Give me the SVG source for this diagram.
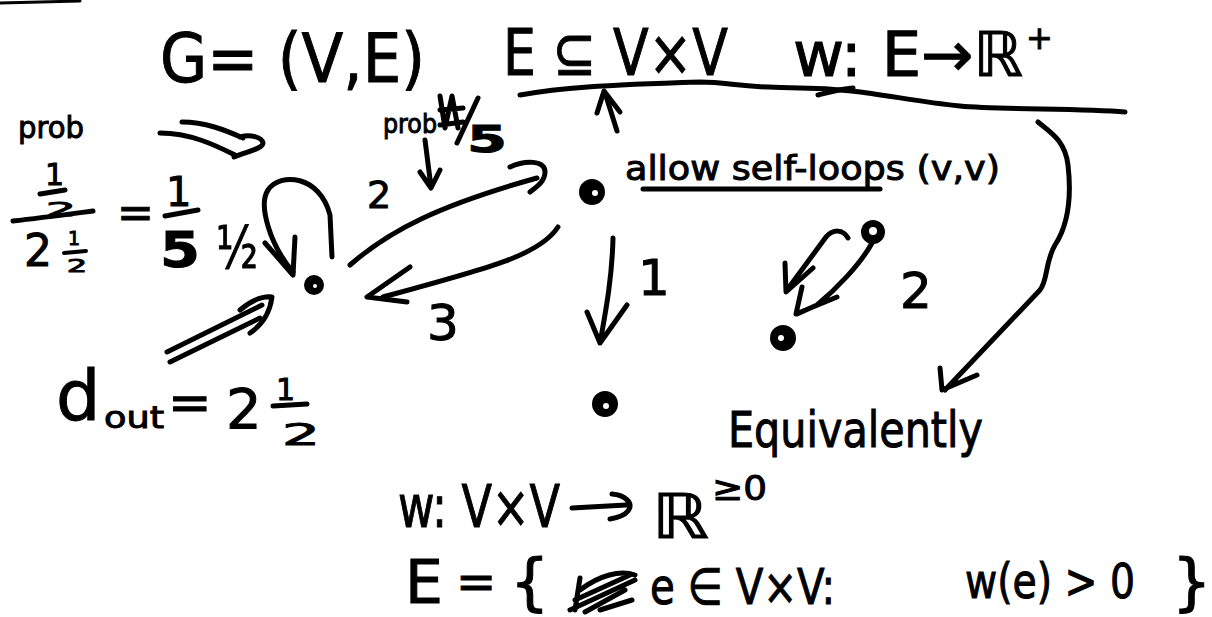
<svg xmlns="http://www.w3.org/2000/svg" width="1212" height="617" viewBox="0 0 1212 617">
<style>
.ink{fill:none;stroke:#000;stroke-width:5;stroke-linecap:round;stroke-linejoin:round}
.t{font-family:"DejaVu Sans","Liberation Sans",sans-serif;fill:#000;stroke:#000;stroke-width:1}
.node{fill:#000;stroke:#000;stroke-width:4}
.hole{fill:#fff}
</style>
<rect width="1212" height="617" fill="#fff"/>
<g id="headers">
<path class="ink" style="stroke-width:3" d="M0,3 L80,1"/>
<text class="t" x="160" y="82" font-size="68" textLength="265" lengthAdjust="spacingAndGlyphs">G= (V,E)</text>
<text class="t" x="503" y="75" font-size="64" textLength="225" lengthAdjust="spacingAndGlyphs">E ⊆ V×V</text>
<text class="t" x="793" y="76" font-size="62" textLength="230" lengthAdjust="spacingAndGlyphs">w: E→ℝ</text>
<text class="t" x="1026" y="49" font-size="32">+</text>
<path class="ink" d="M520,95 C560,88 600,85 700,82 C730,82 740,88 800,88 C860,88 900,100 960,106 C1000,110 1080,108 1125,112"/>
<path class="ink" d="M818,95 C830,92 840,89 853,88"/>
<path class="ink" d="M597,113 L604,91 L620,112 M606,96 L617,131"/>
<text class="t" x="625" y="180" font-size="34" textLength="375" lengthAdjust="spacingAndGlyphs">allow self-loops (v,v)</text>
<path class="ink" d="M643,189 L880,189"/>
<text class="t" x="728" y="447" font-size="50" textLength="255" lengthAdjust="spacingAndGlyphs">Equivalently</text>
</g>
<g id="left-notes">
<text class="t" x="18" y="138" font-size="30" textLength="66" lengthAdjust="spacingAndGlyphs">prob</text>
<text class="t" x="45" y="185" font-size="30">1</text>
<path class="ink" d="M40,194 L65,190"/>
<text class="t" x="46" y="216" font-size="20" textLength="30" lengthAdjust="spacingAndGlyphs">2</text>
<path class="ink" d="M13,221 C40,218 70,214 93,211"/>
<text class="t" x="24" y="266" font-size="44">2</text>
<text class="t" x="68" y="245" font-size="19">1</text>
<path class="ink" style="stroke-width:4" d="M64,253 L86,251"/>
<text class="t" x="67" y="272" font-size="18" textLength="20" lengthAdjust="spacingAndGlyphs">2</text>
<text class="t" x="117" y="228" font-size="44">=</text>
<text class="t" x="166" y="206" font-size="40">1</text>
<path class="ink" d="M165,216 L198,210"/>
<text class="t" x="160" y="267" font-size="50" font-weight="bold" textLength="40" lengthAdjust="spacingAndGlyphs">5</text>
<text class="t" x="216" y="268" font-size="58" textLength="42" lengthAdjust="spacingAndGlyphs">½</text>
<path class="ink" d="M182,122 C205,122 225,130 243,138 M160,133 C190,133 215,145 235,155 M240,137 C250,134 262,137 263,143 C263,149 245,152 234,157"/>
<text class="t" x="383" y="133" font-size="26" textLength="54" lengthAdjust="spacingAndGlyphs">prob</text>
<path class="ink" d="M440,96 L445,128 L452,96 L458,128 M440,110 L463,108 M440,125 L463,122 M457,143 L478,98"/>
<text class="t" x="467" y="152" font-size="38" font-weight="bold" textLength="40" lengthAdjust="spacingAndGlyphs">5</text>
<path class="ink" d="M425,140 L431,187 M420,172 L431,188 L440,170"/>
<path class="ink" d="M167,352 L262,305 M170,362 L260,318 M240,310 C252,300 262,296 272,297 C270,312 262,325 250,333"/>
<text class="t" x="56" y="420" font-size="70">d</text>
<text class="t" x="104" y="428" font-size="30" textLength="60" lengthAdjust="spacingAndGlyphs">out</text>
<text class="t" x="168" y="420" font-size="52">=</text>
<text class="t" x="226" y="428" font-size="56">2</text>
<text class="t" x="276" y="400" font-size="30">1</text>
<path class="ink" d="M273,406 L307,404"/>
<text class="t" x="282" y="445" font-size="30" textLength="38" lengthAdjust="spacingAndGlyphs">2</text>
</g>
<g id="connectors">
<path class="ink" d="M293,272 C270,245 258,205 268,190 C280,172 320,175 330,215 L332,257"/>
<path class="ink" d="M265,243 L293,275 L295,237"/>
<path class="ink" d="M350,265 C390,230 440,205 537,178"/>
<path class="ink" d="M510,167 C525,160 545,160 545,172 C545,182 535,188 530,192"/>
<path class="ink" d="M558,227 C540,255 490,268 383,297"/>
<path class="ink" d="M410,267 L367,297 L407,302"/>
<path class="ink" d="M613,238 C612,280 605,315 600,343 M587,312 L600,343 L627,305"/>
<path class="ink" d="M848,238 C843,229 833,229 826,237 L787,290 M785,263 L786,292 L813,268"/>
<path class="ink" d="M872,243 C860,265 835,290 817,305 L797,314 M802,287 L796,314 L837,297"/>
<path class="ink" d="M1038,122 C1050,132 1065,140 1068,165 C1072,200 1068,225 1055,245 C1045,262 1048,280 1040,290 L945,390 M940,368 L942,390 L977,375"/>
</g>
<g id="edge-labels">
<text class="t" x="367" y="208" font-size="38">2</text>
<text class="t" x="427" y="340" font-size="50">3</text>
<text class="t" x="638" y="295" font-size="50">1</text>
<text class="t" x="900" y="308" font-size="50">2</text>
</g>
<g id="n1"><circle class="node" cx="314" cy="285" r="8"/><circle class="hole" cx="315" cy="286" r="2"/></g>
<g id="n2"><circle class="node" cx="592" cy="192" r="11"/><circle class="hole" cx="595" cy="193" r="3"/></g>
<g id="n3"><circle class="node" cx="605" cy="404" r="11"/><circle class="hole" cx="606" cy="406" r="3"/></g>
<g id="n4"><circle class="node" cx="873" cy="232" r="10"/><circle class="hole" cx="873" cy="231" r="4"/></g>
<g id="n5"><circle class="node" cx="783" cy="338" r="11"/><circle class="hole" cx="781" cy="338" r="3"/></g>
<g id="bottom">
<text class="t" x="398" y="527" font-size="58" textLength="162" lengthAdjust="spacingAndGlyphs">w: V×V</text>
<path class="ink" d="M572,508 L626,505 M612,494 C625,495 634,503 628,511 C624,516 616,518 610,519"/>
<text class="t" x="652" y="538" font-size="62" textLength="57" lengthAdjust="spacingAndGlyphs">ℝ</text>
<text class="t" x="712" y="500" font-size="34" textLength="55" lengthAdjust="spacingAndGlyphs">≥0</text>
<text class="t" x="405" y="603" font-size="60">E</text>
<text class="t" x="456" y="598" font-size="48">=</text>
<text class="t" x="510" y="603" font-size="62">{</text>
<path class="ink" d="M580,578 L575,610 M570,610 L635,580 M575,600 L630,575 M580,590 C600,575 620,570 635,575 M585,612 L625,590 M600,610 L632,600"/>
<text class="t" x="650" y="604" font-size="50" textLength="185" lengthAdjust="spacingAndGlyphs">e ∈ V×V:</text>
<text class="t" x="965" y="598" font-size="48" textLength="170" lengthAdjust="spacingAndGlyphs">w(e) &gt; 0</text>
<text class="t" x="1172" y="603" font-size="62">}</text>
</g>
</svg>
